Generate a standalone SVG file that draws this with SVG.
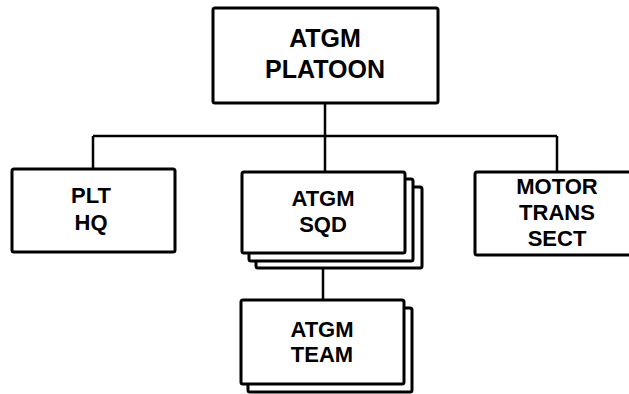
<svg xmlns="http://www.w3.org/2000/svg" width="629" height="394" viewBox="0 0 629 394">
<style>
.box{fill:#fff;stroke:#000;stroke-width:3;}
.ln{fill:none;stroke:#000;stroke-width:2.5;}
text{font-family:"Liberation Sans",Arial,sans-serif;font-weight:bold;fill:#000;text-anchor:middle;}
.t25{font-size:25px;}
.t22{font-size:22px;}
</style>
<rect width="629" height="394" fill="#fff"/>
<g id="connectors">
<path class="ln" d="M325 103 V136 M93 136 H557 M93 136 V169 M557 136 V172 M325 136 V172 M323 268 V300"/>
</g>
<g id="platoon">
<rect class="box" x="213" y="8" width="225" height="95" rx="2"/>
<text class="t25" x="325" y="47">ATGM</text>
<text class="t25" x="325" y="78">PLATOON</text>
</g>
<g id="plt-hq">
<rect class="box" x="12" y="169" width="163" height="83" rx="2"/>
<text class="t22" x="91" y="203">PLT</text>
<text class="t22" x="91" y="230">HQ</text>
</g>
<g id="atgm-sqd">
<rect class="box" x="256" y="187" width="166" height="81" rx="2"/>
<rect class="box" x="249" y="179" width="164" height="82" rx="2"/>
<rect class="box" x="242" y="172" width="163" height="81" rx="2"/>
<text class="t22" x="323" y="206">ATGM</text>
<text class="t22" x="323" y="232">SQD</text>
</g>
<g id="motor-trans-sect">
<rect class="box" x="475" y="172" width="160" height="83" rx="2"/>
<text class="t22" x="557" y="194">MOTOR</text>
<text class="t22" x="557" y="220">TRANS</text>
<text class="t22" x="557" y="246">SECT</text>
</g>
<g id="atgm-team">
<rect class="box" x="248" y="308" width="164" height="84" rx="2"/>
<rect class="box" x="241" y="300" width="163" height="84" rx="2"/>
<text class="t22" x="322" y="337">ATGM</text>
<text class="t22" x="322" y="362">TEAM</text>
</g>
</svg>
